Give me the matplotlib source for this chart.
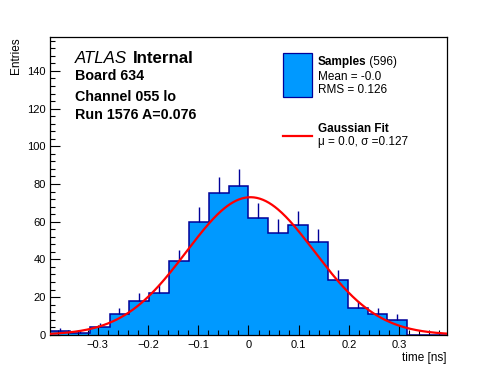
import numpy as np
import matplotlib
matplotlib.use("Agg")
import matplotlib.pyplot as plt
from matplotlib.patches import Rectangle
from matplotlib.ticker import MultipleLocator

# --- datos ---
bin_lo, bin_hi, n_bins = -0.395, 0.395, 20
counts = [2, 1, 4, 11, 18, 22, 39, 60, 75, 79,
          62, 54, 58, 49, 29, 14, 11, 8, 0, 0]
fit_amp, fit_mu, fit_sigma = 73.0, 0.004, 0.127

x_ticks = [-0.3, -0.2, -0.1, 0, 0.1, 0.2, 0.3]
x_ticklabels = ["\u22120.3", "\u22120.2", "\u22120.1", "0", "0.1", "0.2", "0.3"]
y_ticks = [0, 20, 40, 60, 80, 100, 120, 140]

info_lines = ["Board 634", "Channel 055 lo", "Run 1576 A=0.076"]

FILL = "#0099ff"
EDGE = "#000099"

plt.rcParams["font.family"] = ["Liberation Sans", "DejaVu Sans"]

W, H = 496, 372
fig = plt.figure(figsize=(W / 100, H / 100), dpi=100)
ax = fig.add_axes([50 / W, 1 - 334.8 / H, 397 / W, 297.8 / H])

def fx(px):
    return px / W

def fy(py):
    return 1 - py / H

edges = np.linspace(bin_lo, bin_hi, n_bins + 1)
centers = 0.5 * (edges[:-1] + edges[1:])
counts = np.array(counts)

ax.stairs(counts, edges, fill=True, color=FILL, zorder=1)
ax.stairs(counts, edges, color=EDGE, linewidth=1.1, zorder=2)
nz = counts > 0
ax.vlines(centers[nz], counts[nz], counts[nz] + np.sqrt(counts[nz]),
          color=EDGE, linewidth=1.0, zorder=2)

# curva del ajuste gaussiano (parametros de la leyenda)
xs = np.linspace(bin_lo, bin_hi, 400)
ax.plot(xs, fit_amp * np.exp(-0.5 * ((xs - fit_mu) / fit_sigma) ** 2),
        color="red", linewidth=1.6, zorder=3)

ax.set_xlim(bin_lo, bin_hi)
ax.set_ylim(0, 158)
ax.set_xticks(x_ticks)
ax.set_xticklabels(x_ticklabels)
ax.set_yticks(y_ticks)
ax.xaxis.set_minor_locator(MultipleLocator(0.02))
ax.yaxis.set_minor_locator(MultipleLocator(4))
ax.tick_params(which="both", direction="in", top=False, right=False,
               labelsize=8, width=0.8)
ax.tick_params(which="major", length=7)
ax.tick_params(which="minor", length=3.5)
ax.tick_params(axis="x", pad=4)
ax.tick_params(axis="y", pad=3)
for s in ax.spines.values():
    s.set_linewidth(0.9)

ax.set_xlabel("time [ns]", fontsize=8.5, loc="right", labelpad=1)
ax.set_ylabel("Entries", fontsize=8.5, loc="top", labelpad=4)

# textos ATLAS
fig.text(fx(75), fy(63), "ATLAS", fontsize=12.2, style="italic", va="baseline")
fig.text(fx(75 + 3.168 * 16.9 + 4.7), fy(63), "Internal", fontsize=12.2,
         fontweight="bold", va="baseline")
for txt, py in zip(info_lines, [76.5, 97, 115]):
    fig.text(fx(75), fy(py), txt, fontsize=10.3, fontweight="bold", va="center")

# leyenda
fig.add_artist(Rectangle((fx(283), fy(97)), (312 - 283) / W, (97 - 53) / H,
                         transform=fig.transFigure, facecolor=FILL,
                         edgecolor=EDGE, linewidth=0.9))
fig.text(fx(317.5), fy(61.5), "Samples", fontsize=8.5, fontweight="bold", va="center")
fig.text(fx(317.5 + 4.11 * 11.75), fy(61.5), " (596)", fontsize=8.5, va="center")
fig.text(fx(317.5), fy(76.5), "Mean = -0.0", fontsize=8.5, va="center")
fig.text(fx(317.5), fy(90), "RMS = 0.126", fontsize=8.5, va="center")
fig.add_artist(plt.Line2D([fx(283), fx(312)], [fy(136), fy(136)],
                          transform=fig.transFigure, color="red", linewidth=1.6))
fig.text(fx(317.5), fy(129.3), "Gaussian Fit", fontsize=8.5, fontweight="bold", va="center")
fig.text(fx(317.5), fy(141.7), "\u03bc = 0.0, \u03c3 =0.127", fontsize=8.5, va="center")

fig.savefig("out.png", dpi=100)
